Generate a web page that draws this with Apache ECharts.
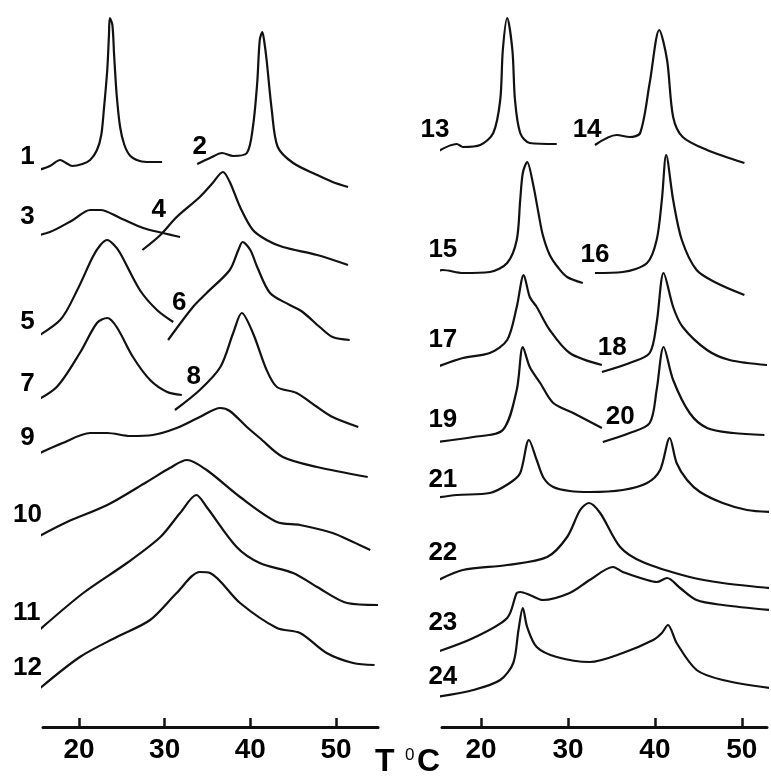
<!DOCTYPE html>
<html>
<head>
<meta charset="utf-8">
<script src="https://cdn.jsdelivr.net/npm/echarts@6/dist/echarts.min.js"></script>
<style>
  html, body { margin: 0; padding: 0; background: #fff; }
  #main { width: 771px; height: 778px; }
</style>
</head>
<body>
<div id="main"></div>
<script>
// temperature ticks (deg C)
var tickValues = [20, 30, 40, 50];

// thermograms: [T, signal] (signal in arbitrary units, stacked)
var c1 = [[15.3,557],[16.6,561],[17.8,567],[18.5,564],[19.2,561],[20.4,563],[21.3,567],[22.1,577],[22.6,592],[22.9,617],[23.3,657],[23.5,692],[23.6,709],[23.9,702],[24.1,672],[24.4,632],[24.8,600],[25.3,582],[26.0,571],[27.1,566],[28.3,565],[29.7,565]];
var c2 = [[33.8,563],[35.3,569],[36.7,574],[38.0,571],[39.6,574],[40.3,600],[40.8,644],[41.1,687],[41.4,695],[41.6,687],[41.9,667],[42.5,617],[43.2,580],[45.0,564],[47.8,552],[49.6,545],[51.4,540]];
var c3 = [[13.7,489],[16.6,495],[19.3,507],[21.3,517],[22.5,517],[24.8,509],[27.5,499],[29.8,494],[31.8,490]];
var c4 = [[27.4,477],[29.5,492],[31.4,510],[34.1,530],[35.6,544],[36.8,555],[37.6,545],[38.8,520],[40.3,497],[41.9,487],[43.8,480],[47.8,472],[51.4,462]];
var c5 = [[14.0,385],[17.8,407],[19.8,437],[21.6,470],[22.5,482],[23.3,487],[24.1,482],[24.8,474],[27.1,437],[29.1,417],[31.0,405]];
var c6 = [[30.4,387],[33.3,420],[34.9,434],[37.6,457],[38.6,477],[39.1,485],[40.0,477],[40.8,460],[42.3,434],[44.6,422],[46.1,415],[48.1,400],[49.6,390],[51.6,387]];
var c7 = [[14.5,324],[17.4,340],[20.1,374],[22.1,404],[23.3,409],[24.4,400],[26.3,370],[28.3,347],[30.3,335],[32.0,332]];
var c8 = [[31.2,317],[34.1,337],[36.5,360],[38.0,394],[39.0,414],[40.3,394],[41.9,357],[43.1,340],[45.4,334],[47.8,320],[49.6,310],[52.6,300]];
var c9 = [[14.9,272],[18.1,284],[21.3,294],[23.3,294],[26.0,291],[28.6,292],[31.4,299],[34.1,310],[36.5,319],[37.6,316],[39.6,300],[41.1,289],[43.8,270],[47.8,260],[53.7,250]];
var c10 = [[14.5,187],[18.6,205],[23.3,222],[27.9,245],[30.6,259],[32.6,267],[34.9,257],[38.8,230],[43.1,205],[45.8,202],[49.6,194],[52.0,185],[54.0,177]];
var c11 = [[15.1,95],[20.5,134],[25.6,164],[29.5,190],[31.8,214],[33.7,232],[34.9,220],[38.4,180],[41.1,164],[45.0,154],[47.8,140],[51.3,124],[54.9,122]];
var c12 = [[15.2,37],[20.1,70],[24.4,90],[28.3,107],[31.4,134],[34.1,155],[35.3,154],[38.8,124],[43.1,99],[45.8,94],[48.9,74],[52.0,64],[54.5,62]];

var c13 = [[14.7,574],[17.2,583],[17.9,580],[19.9,582],[21.4,594],[22.2,627],[22.5,677],[23.0,709],[23.6,677],[23.9,627],[24.5,594],[25.6,584],[28.7,583]];
var c14 = [[33.1,582],[35.6,592],[37.1,590],[38.3,594],[39.4,644],[40.5,697],[41.4,667],[42.1,610],[43.2,590],[46.0,577],[50.3,564]];
var c15 = [[14.1,452],[15.6,457],[17.9,454],[21.0,455],[23.0,464],[24.1,487],[24.5,527],[24.8,554],[25.3,565],[26.0,542],[26.6,514],[27.1,492],[27.9,472],[28.9,459],[29.9,450],[31.7,444]];
var c16 = [[33.1,454],[36.3,455],[39.1,464],[40.2,487],[40.8,527],[41.3,572],[42.1,527],[43.1,487],[44.8,457],[47.1,444],[50.3,432]];
var c17 = [[14.9,360],[17.9,369],[21.0,374],[23.0,387],[24.1,420],[24.9,452],[25.6,430],[26.4,420],[27.9,397],[30.2,374],[33.9,362]];
var c18 = [[33.9,355],[37.1,364],[39.4,374],[40.2,404],[41.0,454],[42.1,420],[43.2,400],[46.0,377],[48.6,367],[52.9,362]];
var c19 = [[14.9,285],[19.1,290],[22.5,297],[24.1,337],[24.8,380],[25.6,360],[26.8,344],[28.3,324],[30.6,314],[33.9,299]];
var c20 = [[34.0,285],[37.1,294],[39.4,304],[40.2,337],[41.0,380],[42.1,347],[44.0,314],[46.0,299],[49.0,294],[52.6,292]];
var c21 = [[14.7,229],[17.2,232],[21.0,234],[23.3,244],[24.5,254],[25.5,287],[26.4,267],[27.2,249],[28.3,240],[30.2,236],[32.5,235],[36.3,237],[39.1,244],[40.6,257],[41.7,289],[42.5,264],[43.7,247],[45.2,235],[47.8,224],[50.6,217],[53.2,215]];
var c22 = [[15.1,147],[17.9,157],[23.0,162],[27.6,170],[29.9,190],[31.4,217],[32.4,224],[33.7,214],[36.0,180],[38.6,165],[44.0,150],[47.8,144],[53.2,139]];
var c23 = [[14.9,75],[19.1,89],[23.0,109],[24.1,134],[24.5,135],[25.6,132],[27.1,127],[30.2,134],[32.5,147],[35.2,160],[36.3,155],[39.1,147],[40.2,145],[41.4,149],[42.9,139],[44.8,127],[47.8,122],[53.2,117]];
var c24 = [[14.9,30],[19.1,37],[22.2,47],[23.7,64],[24.3,97],[24.8,119],[25.3,100],[26.4,80],[28.7,70],[32.5,65],[36.3,74],[39.8,87],[40.8,94],[41.5,102],[42.5,84],[44.8,57],[47.8,47],[53.2,39]];

var leftCurves = [c1, c2, c3, c4, c5, c6, c7, c8, c9, c10, c11, c12];
var rightCurves = [c13, c14, c15, c16, c17, c18, c19, c20, c21, c22, c23, c24];

// curve numbers and where they are written
var leftNames = ['1','2','3','4','5','6','7','8','9','10','11','12'];
var leftLabelAt = [[14.0,570],[34.1,580],[14.0,510],[29.3,517],[14.0,405],[31.7,424],[14.0,343],[33.4,350],[14.0,289],[14.0,212],[13.9,114],[14.0,59]];
var rightNames = ['13','14','15','16','17','18','19','20','21','22','23','24'];
var rightLabelAt = [[14.7,597],[32.2,597],[15.6,477],[33.1,472],[15.6,387],[35.1,379],[15.6,307],[36.0,310],[15.6,247],[15.6,174],[15.6,104],[15.6,50]];

var FONT = "'Liberation Sans', Arial, sans-serif";
var INK = '#111';

function xAxisFor(idx, min, max) {
    return {
        type: 'value', gridIndex: idx, min: min, max: max,
        position: 'bottom',
        axisLine: { show: true, onZero: false, lineStyle: { color: INK, width: 3 } },
        axisTick: { show: true, inside: true, length: 9, customValues: tickValues, lineStyle: { color: INK, width: 2.5 } },
        axisLabel: { show: true, customValues: tickValues, margin: 9, color: '#000', fontSize: 28, fontWeight: 'bold', fontFamily: FONT },
        splitLine: { show: false }
    };
}
function yAxisFor(idx) {
    return { type: 'value', gridIndex: idx, min: 0, max: 727, show: false, splitLine: { show: false } };
}

var series = [];
function addPanel(curves, names, labelAt, idx) {
    for (var i = 0; i < curves.length; i++) {
        series.push({
            type: 'line', xAxisIndex: idx, yAxisIndex: idx,
            data: curves[i], showSymbol: false, smooth: 0.3, clip: false,
            lineStyle: { color: INK, width: 2.2 }, silent: true, animation: false
        });
    }
    var pts = [];
    for (var j = 0; j < names.length; j++) pts.push({ name: names[j], value: labelAt[j] });
    series.push({
        type: 'scatter', xAxisIndex: idx, yAxisIndex: idx, symbolSize: 0, clip: false,
        data: pts, silent: true, animation: false,
        itemStyle: { opacity: 1 },
        label: { show: true, position: 'inside', formatter: '{b}', color: '#000', opacity: 1, fontSize: 26, fontWeight: 'bold', fontFamily: FONT }
    });
}
addPanel(leftCurves, leftNames, leftLabelAt, 0);
addPanel(rightCurves, rightNames, rightLabelAt, 1);

var myChart = echarts.init(document.getElementById('main'));
var option = {
    backgroundColor: '#fff',
    animation: false,
    grid: [
        { left: 43, width: 335, top: 0, bottom: 51 },
        { left: 442, width: 325, top: 0, bottom: 51 }
    ],
    xAxis: [xAxisFor(0, 15.8, 54.9), xAxisFor(1, 15.5, 52.9)],
    yAxis: [yAxisFor(0), yAxisFor(1)],
    series: series,
    graphic: [
        { type: 'text', left: 375, top: 746, style: { text: 'T', fontSize: 32, fontWeight: 'bold', fontFamily: FONT, fill: '#000' } },
        { type: 'text', left: 405, top: 747, style: { text: '0', fontSize: 17, fontFamily: FONT, fill: '#000' } },
        { type: 'text', left: 417, top: 746, style: { text: 'C', fontSize: 32, fontWeight: 'bold', fontFamily: FONT, fill: '#000' } }
    ]
};
myChart.setOption(option);
</script>
</body>
</html>
